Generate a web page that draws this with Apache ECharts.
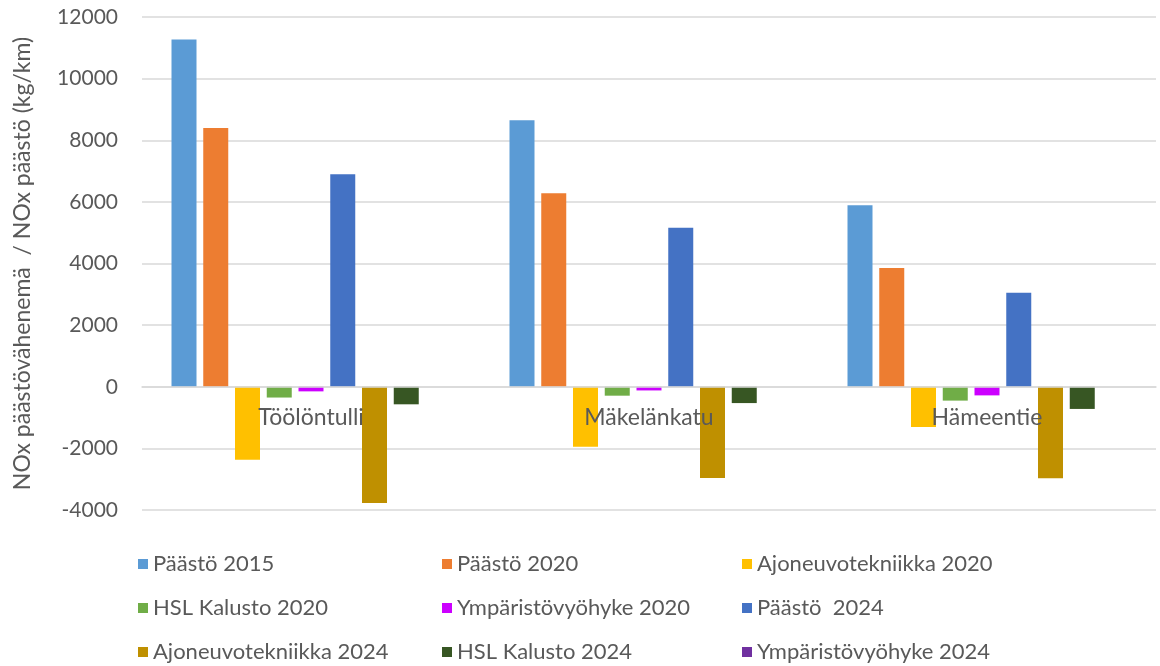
<!DOCTYPE html>
<html>
<head>
<meta charset="utf-8">
<script src="https://cdn.jsdelivr.net/npm/echarts@6/dist/echarts.min.js"></script>
<style>
  html, body { margin: 0; padding: 0; background: #fff; }
  #chart { width: 1160px; height: 666px; }
</style>
</head>
<body>
<div id="chart"></div>
<script>
// kategoriat ja sarjat
var paikat = ["Töölöntulli", "Mäkelänkatu", "Hämeentie"];
var sarjaNimet = [
  "Päästö 2015", "Päästö 2020", "Ajoneuvotekniikka 2020",
  "HSL Kalusto 2020", "Ympäristövyöhyke 2020", "Päästö  2024",
  "Ajoneuvotekniikka 2024", "HSL Kalusto 2024", "Ympäristövyöhyke 2024"
];
var paasto2015 = [11270, 8650, 5890];
var paasto2020 = [8400, 6280, 3850];
var ajoneuvo2020 = [-2370, -1950, -1310];
var hsl2020 = [-350, -290, -450];
var ymparisto2020 = [-150, -120, -280];
var paasto2024 = [6900, 5160, 3050];
var ajoneuvo2024 = [-3770, -2960, -2970];
var hsl2024 = [-570, -530, -720];
var ymparisto2024 = [0, 0, 0];
var yMin = -4000, yMax = 12000, yStep = 2000;

var arvot = [paasto2015, paasto2020, ajoneuvo2020, hsl2020, ymparisto2020,
  paasto2024, ajoneuvo2024, hsl2024, ymparisto2024];
var varit = ["#5B9BD5", "#ED7D31", "#FFC000", "#70AD47", "#CC00FF",
  "#4472C4", "#BF9000", "#375623", "#7030A0"];

var fontti = "Lato, 'Open Sans', sans-serif";
var tekstiVari = "#595959";

var gridTop = 17, gridBottom = 156;
var gridKorkeus = 666 - gridTop - gridBottom;
// x-akseli nollan kohdalle
var nollaSiirto = -gridKorkeus * (0 - yMin) / (yMax - yMin);

var myChart = echarts.init(document.getElementById("chart"));

// selite 3 saraketta x 3 riviä
var sarakkeet = [133, 437, 737];
var rivit = [559, 603, 647];
var selitteet = sarjaNimet.map(function (nimi, i) {
  return {
    orient: "horizontal",
    left: sarakkeet[i % 3],
    top: rivit[Math.floor(i / 3)] - 11,
    itemWidth: 10,
    itemHeight: 10,
    icon: "rect",
    data: [nimi],
    textStyle: { color: tekstiVari, fontSize: 22, fontFamily: fontti, lineHeight: 22 }
  };
});

var option = {
  animation: false,
  color: varit,
  legend: selitteet,
  grid: {
    left: 142,
    right: 4,
    top: gridTop,
    bottom: gridBottom
  },
  xAxis: {
    type: "category",
    data: paikat,
    offset: nollaSiirto,
    z: 5,
    axisTick: { show: false },
    axisLine: { onZero: false, lineStyle: { color: "#D9D9D9", width: 1.5 } },
    axisLabel: { color: tekstiVari, fontSize: 23, fontFamily: fontti, margin: 19 }
  },
  yAxis: {
    type: "value",
    min: yMin,
    max: yMax,
    interval: yStep,
    name: "NOx päästövähenemä  / NOx päästö (kg/km)",
    nameLocation: "middle",
    nameGap: 108,
    nameTextStyle: { color: tekstiVari, fontSize: 23, fontFamily: fontti },
    axisLine: { show: false },
    axisTick: { show: false },
    axisLabel: {
      color: tekstiVari, fontSize: 21, fontFamily: fontti, margin: 24,
      formatter: function (v) { return String(v); }
    },
    splitLine: { lineStyle: { color: "#D9D9D9", width: 1.5 } }
  },
  series: sarjaNimet.map(function (nimi, i) {
    return {
      name: nimi,
      type: "bar",
      barWidth: 25,
      barGap: "27%",
      data: arvot[i]
    };
  })
};

myChart.setOption(option);
</script>
</body>
</html>
